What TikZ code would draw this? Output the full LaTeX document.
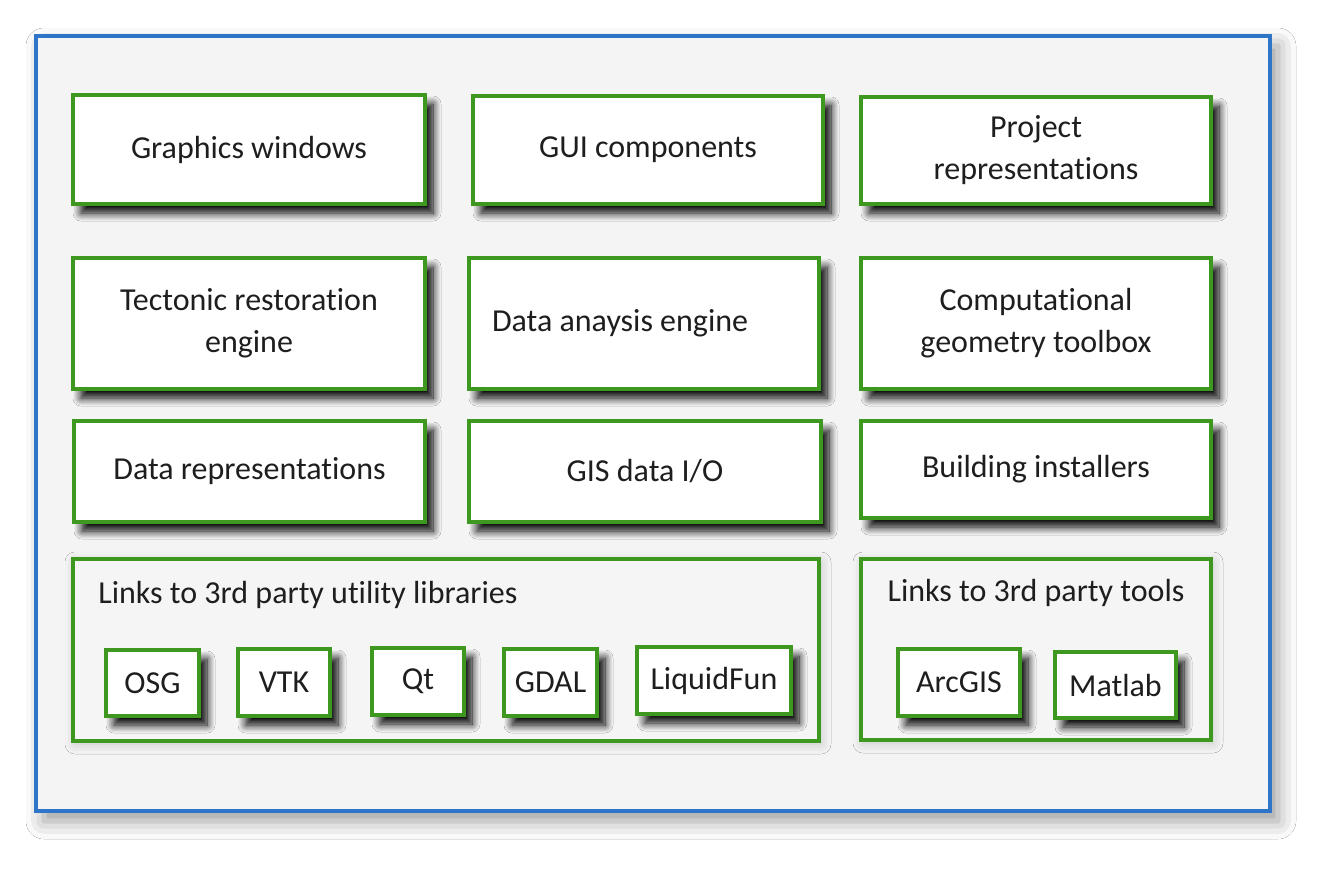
\documentclass[tikz,border=0pt]{standalone}
\usepackage{fontspec}
\setmainfont{Carlito}[RawFeature={-liga;-clig;-calt;-dlig}]
\usetikzlibrary{shadows.blur}
\definecolor{boxgreen}{RGB}{62,152,32}
\definecolor{frameblue}{RGB}{46,117,200}
\definecolor{inkgray}{RGB}{30,30,30}
\tikzset{
  block/.style={draw=boxgreen, line width=2pt, fill=white, align=center,
    text=inkgray, font=\fontsize{16}{21}\selectfont, inner sep=2pt,
    blur shadow={shadow xshift=4pt, shadow yshift=-4.5pt, shadow blur radius=4pt, shadow blur steps=12, shadow opacity=100}},
  holder/.style={draw=boxgreen, line width=1.6pt, fill=gray!8,
    blur shadow={shadow xshift=1pt, shadow yshift=-1.5pt, shadow blur radius=5pt, shadow opacity=20}},
  title/.style={text=inkgray, font=\fontsize{16}{21}\selectfont, inner sep=0pt}
}
\begin{document}
\begin{tikzpicture}[x=0.5pt,y=-0.5pt]
   \useasboundingbox[fill=white] (0,0) rectangle (1337,879);
   \node[draw=frameblue, line width=2pt, fill=gray!9, minimum width=617pt, minimum height=387.5pt,
     blur shadow={shadow xshift=4pt, shadow yshift=-5pt, shadow blur radius=9pt, shadow opacity=40}]
     (frame) at (653,423.5) {};
   \node[block, minimum width=176pt, minimum height=54.5pt] (gfx) at (249,149.5) {Graphics windows};
   \node[block, minimum width=175pt, minimum height=54pt] (gui) at (648,150) {GUI components};
   \node[block, minimum width=175pt, minimum height=53.5pt] (proj) at (1036,150.5) {Project\\representations};
   \node[block, minimum width=176pt, minimum height=65.5pt] (tect) at (249,323.5) {Tectonic restoration\\engine};
   \node[block, minimum width=175pt, minimum height=65.5pt, text width=152pt, inner xsep=11.5pt, align=flush left] (anal) at (644,323.5) {Data anaysis engine};
   \node[block, minimum width=175pt, minimum height=65.5pt] (geom) at (1036,323.5) {Computational\\geometry toolbox};
   \node[block, minimum width=175.5pt, minimum height=50.5pt] (drep) at (249.5,471.5) {Data representations};
   \node[block, minimum width=176pt, minimum height=50.5pt] (gis) at (645,471.5) {GIS data I/O};
   \node[block, minimum width=175pt, minimum height=48.5pt] (inst) at (1036,469.5) {Building installers};
   \node[holder, minimum width=373pt, minimum height=91pt] (libs) at (446,650) {};
   \node[title, anchor=west] (libstitle) at (98,595) {Links to 3rd party utility libraries};
   \node[holder, minimum width=175pt, minimum height=90.5pt] (tools) at (1036,649.5) {};
   \node[title] (toolstitle) at (1036,593) {Links to 3rd party tools};
   \node[block, minimum width=46.5pt, minimum height=33pt] (osg) at (152.5,683) {OSG};
   \node[block, minimum width=46pt, minimum height=33.5pt] (vtk) at (284,682.5) {VTK};
   \node[block, minimum width=46pt, minimum height=33.5pt] (qt) at (418,681.5) {Qt};
   \node[block, minimum width=46.5pt, minimum height=33.5pt] (gdal) at (550.5,682.5) {GDAL};
   \node[block, minimum width=77pt, minimum height=33.5pt] (liquid) at (714,680.5) {LiquidFun};
   \node[block, minimum width=61pt, minimum height=33.5pt] (arcgis) at (959,682.5) {ArcGIS};
   \node[block, minimum width=60.5pt, minimum height=33pt] (matlab) at (1115.5,685) {Matlab};
\end{tikzpicture}
\end{document}
